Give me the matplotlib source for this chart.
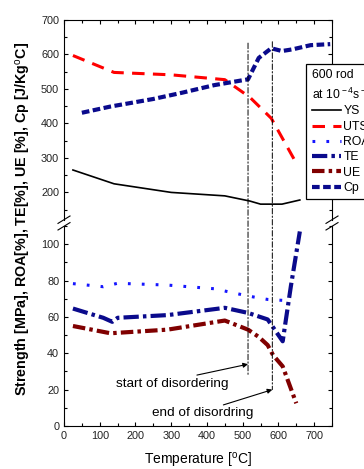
import numpy as np
import matplotlib
matplotlib.use("Agg")
import matplotlib.pyplot as plt
from matplotlib.lines import Line2D
from matplotlib.patches import ConnectionPatch
from matplotlib.ticker import MultipleLocator

plt.rcParams['font.family'] = ['Liberation Sans', 'DejaVu Sans']
plt.rcParams['mathtext.fontset'] = 'custom'
plt.rcParams['mathtext.rm'] = 'Liberation Sans'
plt.rcParams['lines.scale_dashes'] = False

# upper part (MPa, J/kg C)
temp_ys = [25, 140, 300, 450, 520, 550, 610, 660]
ys = [265, 225, 200, 190, 175, 166, 166, 178]

temp_uts = [25, 140, 300, 450, 520, 580, 650]
uts = [597, 548, 541, 527, 476, 415, 285]

temp_cp = [50, 130, 250, 330, 420, 515, 545, 580, 610, 640, 690, 745]
cp = [431, 449, 471, 489, 511, 528, 590, 618, 610, 615, 627, 630]

# lower part (%)
temp_roa = [25, 110, 150, 290, 420, 515, 570, 620]
roa = [78.3, 76.6, 78.5, 77.5, 75.5, 71.5, 69.6, 69]

temp_te = [25, 110, 135, 150, 290, 450, 515, 570, 612, 635, 660]
te = [64.6, 59.5, 57.3, 59.5, 61, 65, 62.2, 58.6, 46.6, 77, 107]

temp_ue = [25, 130, 290, 450, 515, 545, 570, 585, 612, 650]
ue = [55, 51, 53, 58, 53, 49, 44.5, 39, 32.8, 12.5]

t_start = 515
t_end = 583

navy = '#0a0a8c'
tick_col = '#222222'

fig = plt.figure(figsize=(3.64, 4.69), dpi=100)
L, W = 64 / 364, 268 / 364
ax_up = fig.add_axes([L, 1 - 220 / 469, W, 200 / 469])
ax_lo = fig.add_axes([L, 1 - 426 / 469, W, 200 / 469])

l_ys, = ax_up.plot(temp_ys, ys, color='black', lw=1.2, label='YS')
l_uts, = ax_up.plot(temp_uts, uts, color='#ff0000', lw=2.2, dashes=(9, 6), label='UTS')
l_cp, = ax_up.plot(temp_cp, cp, color=navy, lw=3, dashes=(5.5, 2.5), label='Cp')

l_roa, = ax_lo.plot(temp_roa, roa, color='#1515ff', lw=2.2, dashes=(2, 8), label='ROA')
l_te, = ax_lo.plot(temp_te, te, color=navy, lw=3, dashes=(11, 3, 2.5, 3), label='TE')
l_ue, = ax_lo.plot(temp_ue, ue, color='#800000', lw=3, dashes=(9, 3, 2.5, 3), label='UE')

ax_up.set_ylim(120, 700)
ax_lo.set_ylim(0, 110)
for ax in (ax_up, ax_lo):
    ax.set_xlim(0, 750)
    ax.xaxis.set_major_locator(MultipleLocator(100))
    ax.xaxis.set_minor_locator(MultipleLocator(50))
    ax.tick_params(which='both', direction='in', top=True, right=True,
                   labelsize=7.8, labelcolor=tick_col, width=0.8)
    ax.tick_params(which='major', length=3)
    ax.tick_params(which='minor', length=2)
    for s in ax.spines.values():
        s.set_linewidth(0.8)

ax_up.yaxis.set_major_locator(MultipleLocator(100))
ax_up.yaxis.set_minor_locator(MultipleLocator(50))
ax_up.set_yticks([200, 300, 400, 500, 600, 700])
ax_up.spines['bottom'].set_visible(False)
ax_up.tick_params(which='both', bottom=False, labelbottom=False)

ax_lo.yaxis.set_major_locator(MultipleLocator(20))
ax_lo.yaxis.set_minor_locator(MultipleLocator(10))
ax_lo.spines['top'].set_visible(False)
ax_lo.tick_params(which='both', top=False)

# dash-dot lines for start / end of disordering, across the break
for t, y_top, y_bot in [(t_start, 633, 28), (t_end, 637, 20)]:
    con = ConnectionPatch(xyA=(t, y_top), coordsA=ax_up.transData,
                          xyB=(t, y_bot), coordsB=ax_lo.transData,
                          color='black', lw=0.7, linestyle=(0, (4, 1.5, 1, 1.5)))
    fig.add_artist(con)

ax_lo.annotate('', xy=(t_start, 34), xytext=(372, 28),
               arrowprops=dict(arrowstyle='-|>', color='black', lw=0.8,
                               mutation_scale=7, shrinkA=0, shrinkB=0))
ax_lo.annotate('', xy=(t_end, 20), xytext=(446, 11.6),
               arrowprops=dict(arrowstyle='-|>', color='black', lw=0.8,
                               mutation_scale=7, shrinkA=0, shrinkB=0))
ax_lo.text(304, 23, 'start of disordering', ha='center', va='center', fontsize=9.7)
ax_lo.text(387, 7.2, 'end of disordring', ha='center', va='center', fontsize=9.7)

# axis break marks
for xp in (64, 332):
    for yp in (219.7, 226.3):
        fig.add_artist(Line2D([(xp - 6) / 364, (xp + 6) / 364],
                              [1 - (yp + 3.7) / 469, 1 - (yp - 3.7) / 469],
                              color='black', lw=0.8))

leg = fig.legend(handles=[l_ys, l_uts, l_roa, l_te, l_ue, l_cp],
                 title='600 rod\nat 10$^{\\rm -4}$s$^{\\rm -1}$',
                 loc='upper left', bbox_to_anchor=(306 / 364, 1 - 64 / 469),
                 borderaxespad=0,
                 fontsize=8.8, title_fontsize=8.8, alignment='left',
                 handlelength=2.4, handletextpad=0.2, labelspacing=0.27,
                 borderpad=0.45, fancybox=False, edgecolor='black', framealpha=1)
leg.get_frame().set_linewidth(0.9)
leg.get_title().set_linespacing(1.45)

fig.text(0.064, 1 - 219 / 469, 'Strength [MPa], ROA[%], TE[%], UE [%], Cp [J/Kg$^{\\rm o}$C]',
         rotation=90, ha='center', va='center', fontsize=10.3, fontweight='bold')
fig.text(0.545, 0.019, 'Temperature [$^{\\rm o}$C]', ha='center', va='center', fontsize=10)

fig.savefig('out.png', dpi=100)
